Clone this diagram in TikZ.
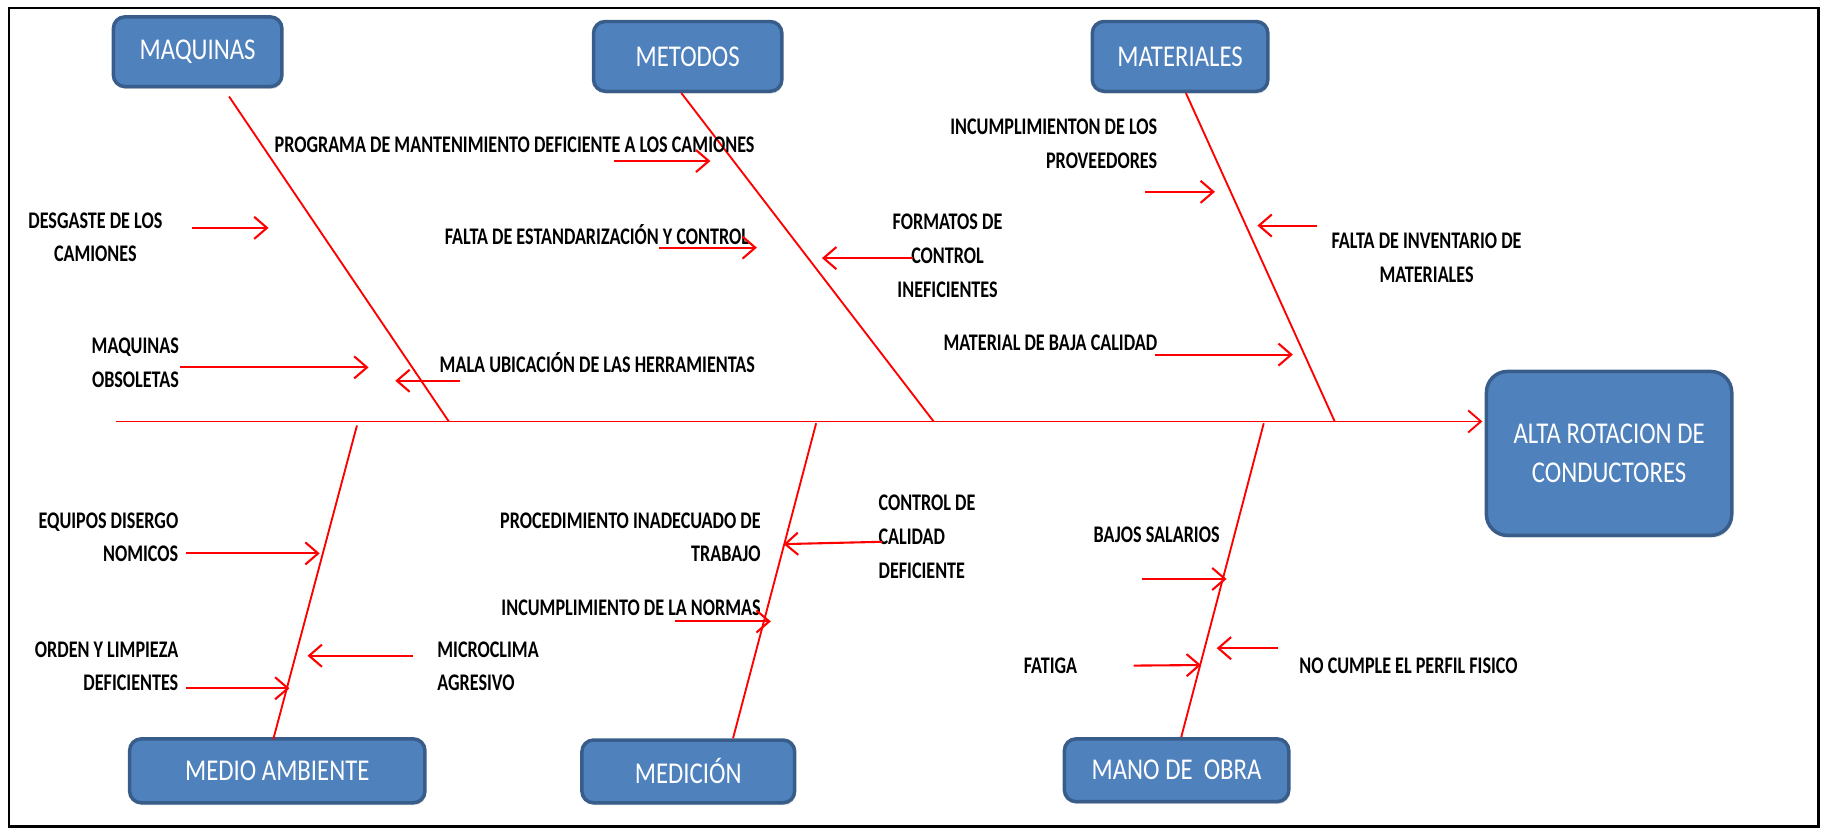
\documentclass[tikz,border=0pt]{standalone}
\usepackage{fontspec}
\setmainfont{Carlito}
\newfontfamily\angosta[FakeStretch=0.82]{Carlito}
\newfontfamily\estrecha[FakeStretch=0.76]{Carlito}
\usetikzlibrary{arrows.meta,shadows}
\definecolor{cajaazul}{RGB}{79,129,189}
\definecolor{bordeazul}{RGB}{56,93,138}
\begin{document}
\begin{tikzpicture}[x=1pt,y=-1pt,>={Straight Barb[length=11pt,width=19pt]},
    caja/.style={draw=bordeazul,line width=3pt,fill=cajaazul,rounded corners=10pt,
      text=white,font=\angosta\fontsize{26}{34}\selectfont,
      drop shadow={shadow xshift=1pt,shadow yshift=-2pt,opacity=0.3}},
    causa/.style={inner sep=0pt,font=\estrecha\bfseries\fontsize{20.5}{29}\selectfont},
    espina/.style={red,line width=1.6pt},
    flecha/.style={red,line width=1.8pt,->}]
      \useasboundingbox (0,0) rectangle (1568,714);
      \draw[line width=2pt] (8,7) rectangle (1564,711);
      % cajas de categorias
      \node[caja,minimum width=145pt,minimum height=60pt] (maq) at (170,44.5) {MAQUINAS};
      \node[caja,minimum width=162pt,minimum height=60pt] (met) at (591.5,48.5) {METODOS};
      \node[caja,minimum width=151pt,minimum height=60pt] (mat) at (1015,48.5) {MATERIALES};
      \node[caja,minimum width=254pt,minimum height=55pt] (amb) at (238.5,663) {MEDIO AMBIENTE};
      \node[caja,minimum width=183pt,minimum height=54pt] (medi) at (592,663.5) {MEDICIÓN};
      \node[caja,minimum width=193pt,minimum height=54pt] (mano) at (1012,662.5) {MANO DE\ \ OBRA};
      \node[caja,rounded corners=18pt,minimum width=211pt,minimum height=141pt,align=center] (efecto) at (1384,390) {ALTA ROTACION DE\\CONDUCTORES};
      % espina central
      \coordinate (cola) at (100,362.5);
      \draw[flecha,line width=1.6pt,shorten >=2pt] (cola) -- (cola -| efecto.west);
      % espinas de cada categoria
      \coordinate (maq1) at (197,83);    \coordinate (maq2) at (386,362.5);
      \coordinate (met1) at (586,80);    \coordinate (met2) at (803,362.5);
      \coordinate (mat1) at (1020,80);   \coordinate (mat2) at (1148,362.5);
      \coordinate (amb1) at (307,366);   \coordinate (amb2) at (235,636);
      \coordinate (medi1) at (702,364);  \coordinate (medi2) at (630.5,635);
      \coordinate (mano1) at (1087,364); \coordinate (mano2) at (1016,634);
      \foreach \n in {maq,met,mat,amb,medi,mano} {
        \draw[espina] (\n1) -- (\n2);
      }
      % causas
      \node[causa,align=center] (desgaste) at (82,204) {DESGASTE DE LOS\\CAMIONES};
      \node[causa,align=right,anchor=east] (obsoletas) at (154,312) {MAQUINAS\\OBSOLETAS};
      \node[causa,anchor=west] (ubicacion) at (378,311.5) {MALA UBICACIÓN DE LAS HERRAMIENTAS};
      \node[causa,anchor=west] (programa) at (236,124.5) {PROGRAMA DE MANTENIMIENTO DEFICIENTE A LOS CAMIONES};
      \node[causa,anchor=west] (estandar) at (382.5,202) {FALTA DE ESTANDARIZACIÓN Y CONTROL};
      \node[causa,align=center] (formatos) at (815,220) {FORMATOS DE\\CONTROL\\INEFICIENTES};
      \node[causa,align=right,anchor=east] (proveedores) at (995.5,123.5) {INCUMPLIMIENTON DE LOS\\PROVEEDORES};
      \node[causa,align=center] (inventario) at (1227,222) {FALTA DE INVENTARIO DE\\MATERIALES};
      \node[causa,anchor=east] (bajacal) at (995.5,295) {MATERIAL DE BAJA CALIDAD};
      \node[causa,align=right,anchor=east] (ergo) at (153.5,462) {EQUIPOS DISERGO\\NOMICOS};
      \node[causa,align=right,anchor=east] (orden) at (153.5,573) {ORDEN Y LIMPIEZA\\DEFICIENTES};
      \node[causa,align=left,anchor=west] (microclima) at (376,573) {MICROCLIMA\\AGRESIVO};
      \node[causa,align=right,anchor=east] (procedimiento) at (654.5,462) {PROCEDIMIENTO INADECUADO DE\\TRABAJO};
      \node[causa,align=left,anchor=west] (controlcal) at (755.5,461.5) {CONTROL DE\\CALIDAD\\DEFICIENTE};
      \node[causa,anchor=east] (normas) at (654.5,523) {INCUMPLIMIENTO DE LA NORMAS};
      \node[causa,anchor=west] (salarios) at (940.5,460) {BAJOS SALARIOS};
      \node[causa,anchor=west] (fatiga) at (880.5,572.5) {FATIGA};
      \node[causa,anchor=west] (perfil) at (1117.5,572.5) {NO CUMPLE EL PERFIL FISICO};
      % flechas de las causas
      \coordinate (desgaste-a) at (165,196);        \coordinate (desgaste-b) at (231,196);
      \coordinate (obsoletas-a) at (155,316);       \coordinate (obsoletas-b) at (317,316);
      \coordinate (ubicacion-a) at (396,327.5);     \coordinate (ubicacion-b) at (340,327.5);
      \coordinate (programa-a) at (528,138.5);      \coordinate (programa-b) at (611,138.5);
      \coordinate (estandar-a) at (567,213);        \coordinate (estandar-b) at (651,213);
      \coordinate (formatos-a) at (785,222);        \coordinate (formatos-b) at (707,222);
      \coordinate (proveedores-a) at (985,165);     \coordinate (proveedores-b) at (1045,165);
      \coordinate (inventario-a) at (1133,194);     \coordinate (inventario-b) at (1081.5,194);
      \coordinate (bajacal-a) at (993,305);         \coordinate (bajacal-b) at (1112,305);
      \coordinate (ergo-a) at (160,476);            \coordinate (ergo-b) at (275,476);
      \coordinate (orden-a) at (160,592);           \coordinate (orden-b) at (249,592);
      \coordinate (microclima-a) at (355,564);      \coordinate (microclima-b) at (264.5,564);
      \coordinate (procedimiento-a) at (759,466);   \coordinate (procedimiento-b) at (674,468);
      \coordinate (normas-a) at (580.5,534.5);      \coordinate (normas-b) at (663,534.5);
      \coordinate (salarios-a) at (982,498);        \coordinate (salarios-b) at (1055,498);
      \coordinate (fatiga-a) at (975,572.5);        \coordinate (fatiga-b) at (1033,572);
      \coordinate (perfil-a) at (1099,557.5);       \coordinate (perfil-b) at (1046.5,557.5);
      \foreach \n in {desgaste,obsoletas,ubicacion,programa,estandar,formatos,proveedores,
          inventario,bajacal,ergo,orden,microclima,procedimiento,normas,salarios,fatiga,perfil} {
        \draw[flecha] (\n-a) -- (\n-b);
      }
    \end{tikzpicture}
\end{document}
